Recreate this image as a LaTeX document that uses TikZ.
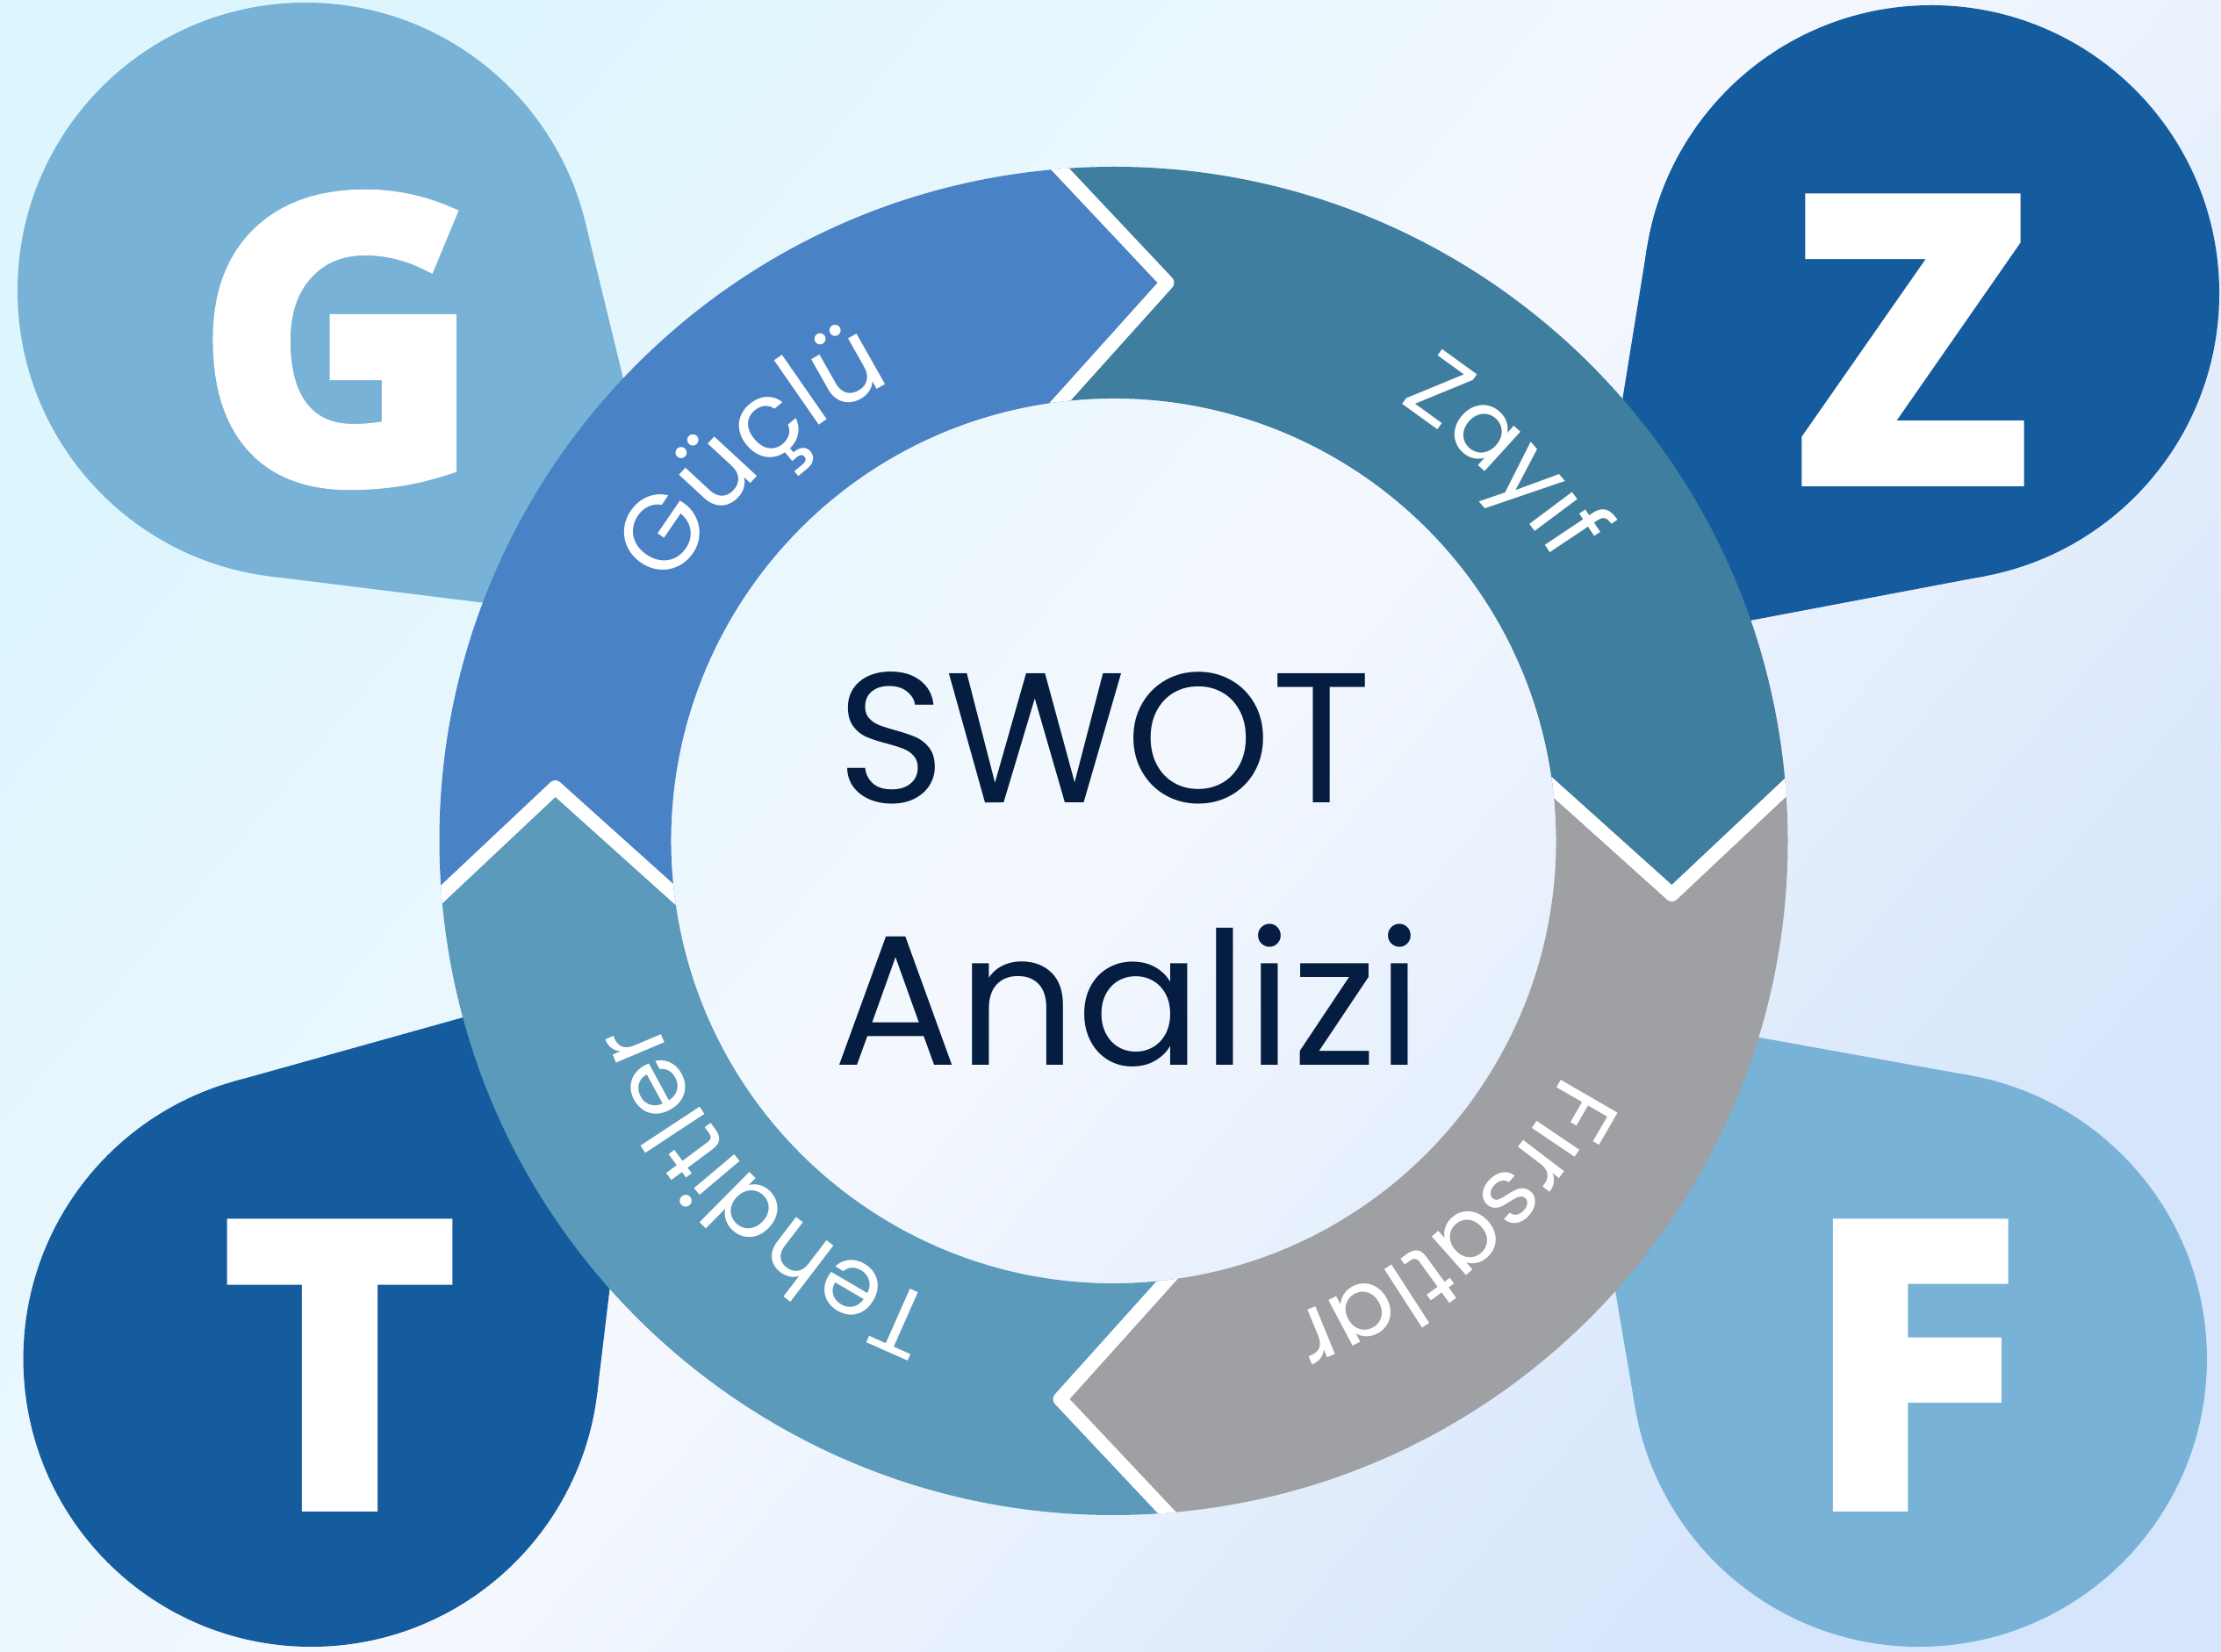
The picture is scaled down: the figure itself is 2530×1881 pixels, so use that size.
\documentclass[tikz,border=0pt]{standalone}
\usepackage{fontspec}
\newfontfamily\poppins{Poppins}
\newfontfamily\lettersfont{Open Sans}[UprightFont={* Bold}, UprightFeatures={FakeBold=4.5}]
\usetikzlibrary{calc,decorations.text}
\definecolor{cBlue}{HTML}{4A82C6}
\definecolor{cTeal}{HTML}{3F7E9E}
\definecolor{cGray}{HTML}{9FA0A4}
\definecolor{cSteel}{HTML}{5B9ABB}
\definecolor{cLight}{HTML}{78B2D6}
\definecolor{cDark}{HTML}{155C9E}
\definecolor{cNavy}{HTML}{051D40}
\definecolor{bgTL}{HTML}{DDF5FD}
\definecolor{bgBR}{HTML}{D5E5FB}
\definecolor{bgMid}{HTML}{F4F8FE}
\tikzset{
  bigletter/.style={text=white, inner sep=0pt, anchor=base, font=\lettersfont\fontsize{125}{125}\selectfont},
  centertext/.style={inner sep=0pt, anchor=base, text=cNavy, font=\poppins\fontsize{60}{60}\selectfont},
  gapline/.style={white, line width=1.6mm, line join=round},
  ringlabel/.style 2 args={decorate, decoration={text along path, text align=center, text color=white, text={|\poppins\fontsize{#1}{#1}\selectfont|#2}}},
}
\begin{document}
\begin{tikzpicture}[x=0.01cm,y=0.01cm]
\useasboundingbox (0,0) rectangle (2530,1881);
\shade[left color=bgTL, right color=bgBR, middle color=bgMid, shading angle=50] (0,0) rectangle (2530,1881);

% ring centre
\coordinate (C) at (1268.5,923);

% blobs
\coordinate (gO) at (348,1550);   \coordinate (gP) at (779,1166);
\coordinate (zO) at (2200,1547);  \coordinate (zP) at (1801.6,1137.7);
\coordinate (tO) at (354.6,333);  \coordinate (tP) at (738.7,781);
\coordinate (fO) at (2185.9,333); \coordinate (fP) at (1784.1,738.7);

\fill[cLight] (gO) circle[radius=328];
\fill[cLight] ($(gO)+(13.67:328)$) -- (gP) -- ($(gO)+(-97.07:328)$) -- cycle;
\fill[cDark] (zO) circle[radius=328];
\fill[cDark] ($(zO)+(170.82:328)$) -- (zP) -- ($(zO)+(280.72:328)$) -- cycle;
\fill[cDark] (tO) circle[radius=328];
\fill[cDark] ($(tO)+(105.62:328)$) -- (tP) -- ($(tO)+(-6.84:328)$) -- cycle;
\fill[cLight] (fO) circle[radius=328];
\fill[cLight] ($(fO)+(189.66:328)$) -- (fP) -- ($(fO)+(79.78:328)$) -- cycle;

\node[bigletter] (G) at (386,1337) {G};
\node[bigletter] (Z) at (2179,1337) {Z};
\node[bigletter] (T) at (387,169) {T};
\node[bigletter] (F) at (2179,169) {F};

% ring segments
\foreach \s/\col in {180/cBlue, 90/cTeal, 0/cGray, -90/cSteel}{
  \pgfmathsetmacro\e{\s-90}
  \pgfmathsetmacro\so{\s+4.556}
  \pgfmathsetmacro\eo{\e+4.556}
  \pgfmathsetmacro\si{\s+6.95}
  \pgfmathsetmacro\ei{\e+6.95}
  \pgfmathsetmacro\st{\s-5.479}
  \pgfmathsetmacro\et{\e-5.479}
  \fill[\col] ($(C)+(\so:768)$) arc[start angle=\so, end angle=\eo, radius=768]
     -- ($(C)+(\et:638.9)$) -- ($(C)+(\ei:504)$)
     arc[start angle=\ei, end angle=\si, radius=504]
     -- ($(C)+(\st:638.9)$) -- cycle;
}
% white gaps
\begin{scope}[even odd rule]
\clip (C) circle[radius=768] (C) circle[radius=504];
\foreach \b in {90,0,-90,180}{
  \pgfmathsetmacro\bo{\b+4.556}
  \pgfmathsetmacro\bi{\b+6.95}
  \pgfmathsetmacro\bt{\b-5.479}
  \coordinate (o) at ($(C)+(\bo:768)$);
  \coordinate (i) at ($(C)+(\bi:504)$);
  \coordinate (t) at ($(C)+(\bt:638.9)$);
  \draw[gapline] ($(t)!1.3!(o)$) -- (t) -- ($(t)!1.3!(i)$);
}
\end{scope}

% ring labels
\path[ringlabel={34.3}{Güçlü}] ($(C)+(173:580)$) arc[start angle=173, end angle=93, radius=580];
\path[ringlabel={31.5}{Zayıf}] ($(C)+(84.5:596)$) arc[start angle=84.5, end angle=4.5, radius=596];
\path[ringlabel={30.5}{Fırsatlar}] ($(C)+(-8.5:578)$) arc[start angle=-8.5, end angle=-88.5, radius=578];
\path[ringlabel={31}{Tehditler}] ($(C)+(-95:560)$) arc[start angle=-95, end angle=-175, radius=560];

% centre text
\node[centertext] (swot) at (1258,966) {SWOT};
\node[centertext] (analizi) at (1285,667.4) {Analizi};
\end{tikzpicture}
\end{document}
